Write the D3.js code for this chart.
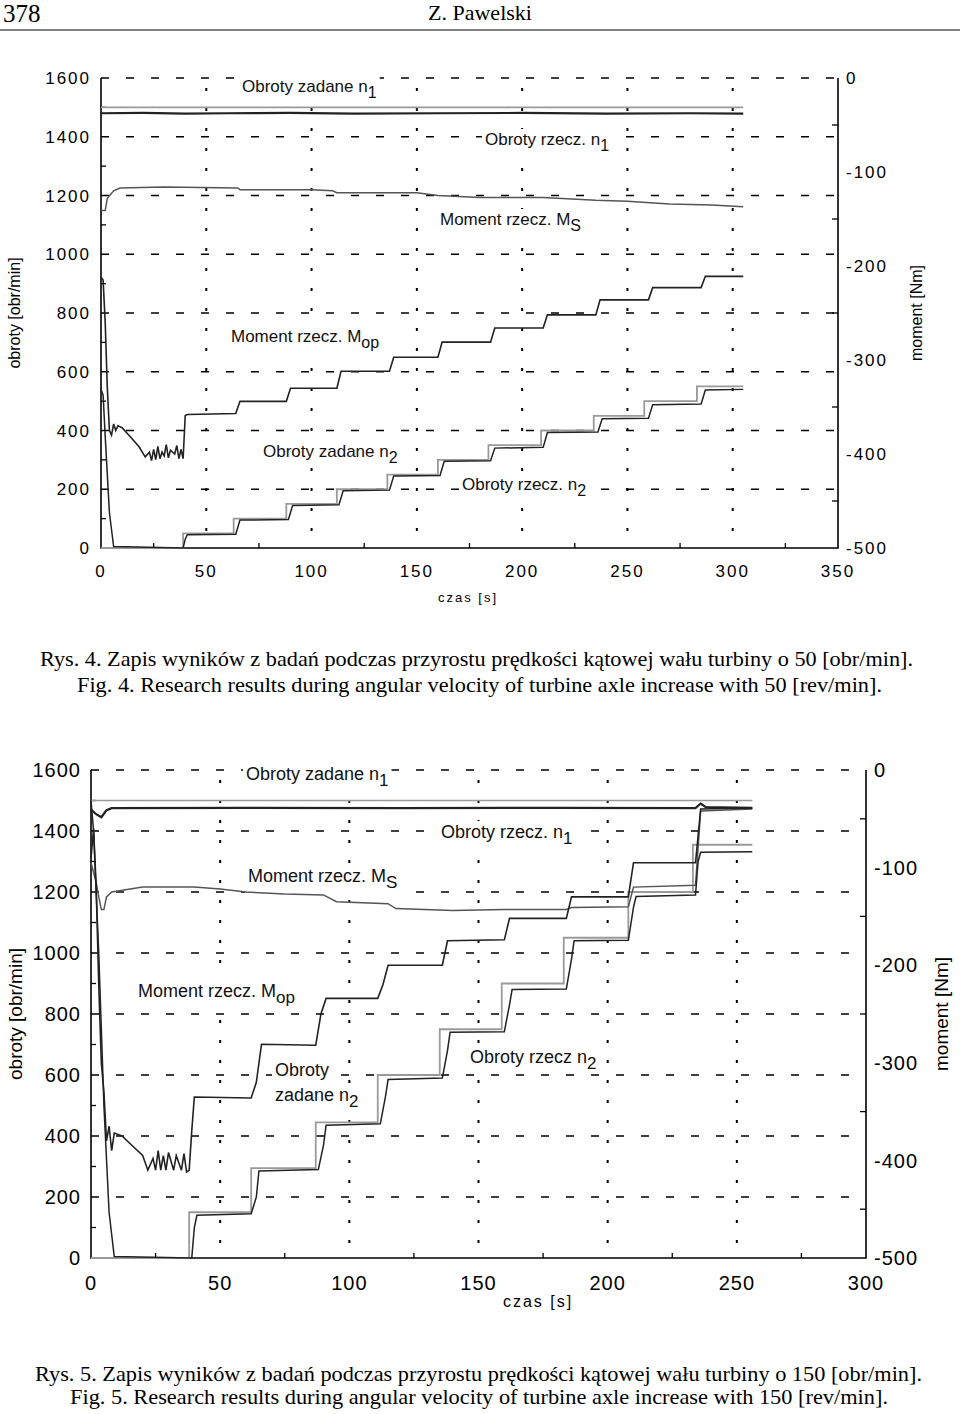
<!DOCTYPE html>
<html><head><meta charset="utf-8">
<script src="https://cdn.jsdelivr.net/npm/d3@7"></script>
<style>body{margin:0;background:#fff}svg{display:block}</style>
</head><body>
<svg id="s" width="960" height="1414"></svg>
<script>
// ===== DATA =====
// Chart 1 (Rys. 4) — time [s], value (rpm for n, Nm for moment)
const c1_n1set = [[0,1500],[305,1500]];
const c1_n1act = [[0,1480],[20,1481],[40,1479],[60,1480],[90,1481],[120,1479],[160,1480],[200,1481],[240,1479],[280,1480],[305,1479]];
const c1_Ms = [[0,-141],[2,-141],[3,-128],[6,-120],[9,-117],[30,-116],[65,-117],[66,-119],[100,-119],[110,-120],[112,-122],[150,-122],[160,-125],[180,-127],[200,-127],[210,-127],[235,-130],[250,-131],[270,-134],[290,-135],[305,-137]];
const c1_Mop = [[0,-212],[1,-215],[2,-260],[3,-330],[4,-375],[5,-380],[6,-368],[7,-375],[8,-370],[10,-372],[14,-382],[18,-392],[21,-403],[23,-398],[24,-407],[25,-395],[26,-406],[27,-392],[28,-405],[29,-398],[30,-402],[31,-390],[32,-404],[33,-396],[35,-400],[36,-391],[37,-405],[38,-395],[39,-405],[40,-359],[41,-358],[64,-357],[66,-344],[88,-344],[90,-330],[112,-330],[114,-312],[137,-312],[139,-297],[160,-297],[162,-281],[185,-281],[187,-266],[210,-266],[212,-252],[235,-252],[237,-236],[260,-236],[262,-223],[285,-223],[287,-211],[305,-211]];
const c1_n2set = [[0,0],[39,0],[39,50],[63,50],[63,100],[88,100],[88,150],[112,150],[112,200],[136,200],[136,250],[160,250],[160,300],[184,300],[184,350],[209,350],[209,400],[234,400],[234,450],[258,450],[258,500],[283,500],[283,550],[305,550]];
const c1_n2act = [[0,540],[1,520],[2,380],[4,120],[6,5],[39,0],[40,30],[41,45],[64,47],[66,95],[89,97],[91,145],[113,147],[115,195],[137,197],[139,245],[161,247],[163,295],[185,297],[187,340],[210,343],[212,393],[236,395],[238,440],[260,442],[262,488],[285,490],[287,538],[305,540]];
// Chart 2 (Rys. 5)
const c2_n1set = [[0,1500],[256,1500]];
const c2_n1act = [[0,1470],[2,1455],[4,1445],[6,1468],[8,1475],[60,1476],[120,1475],[180,1476],[234,1475],[236,1490],[238,1478],[256,1476]];
const c2_Ms = [[0,-95],[2,-115],[3,-130],[4,-143],[5,-143],[6,-130],[8,-125],[20,-120],[40,-120],[50,-122],[60,-125],[75,-127],[90,-128],[95,-135],[115,-137],[118,-142],[140,-144],[160,-143],[184,-143],[186,-141],[208,-140],[210,-120],[234,-118],[236,-42],[256,-40]];
const c2_Mop = [[0,-90],[1,-60],[2,-120],[3,-220],[4,-300],[5,-330],[6,-380],[7,-365],[8,-390],[9,-372],[12,-375],[16,-385],[20,-395],[22,-410],[24,-398],[25,-410],[26,-390],[27,-410],[28,-395],[29,-410],[30,-392],[32,-410],[33,-395],[35,-410],[36,-393],[37,-412],[38,-410],[39,-370],[40,-335],[62,-336],[64,-320],[66,-281],[87,-282],[89,-250],[91,-234],[111,-234],[113,-220],[115,-200],[136,-200],[138,-175],[160,-174],[162,-152],[184,-152],[186,-130],[208,-130],[210,-95],[234,-95],[236,-40],[256,-39]];
const c2_n2set = [[0,0],[38,0],[38,150],[62,150],[62,295],[87,295],[87,445],[111,445],[111,600],[135,600],[135,750],[159,750],[159,900],[183,900],[183,1050],[208,1050],[208,1200],[233,1200],[233,1355],[256,1355]];
const c2_n2act = [[0,1500],[1,1400],[3,1000],[5,500],[7,150],[9,5],[39,0],[40,100],[41,140],[62,145],[64,200],[65,285],[88,290],[90,370],[91,435],[112,440],[114,530],[115,585],[136,590],[138,680],[139,740],[160,742],[162,830],[163,880],[184,882],[186,980],[187,1040],[208,1042],[210,1150],[211,1185],[234,1190],[235,1300],[236,1330],[256,1332]];

const leftTicks = [0,200,400,600,800,1000,1200,1400,1600];
const rightTicks = [0,-100,-200,-300,-400,-500];

// ===== DRAW =====
const svg = d3.select("#s");
const sans = "'Liberation Sans', Arial, sans-serif";
const serif = "'Liberation Serif', 'Times New Roman', serif";

svg.append("text").attr("x",3).attr("y",22).attr("font-family",serif).attr("font-size",25).text("378");
svg.append("text").attr("x",480).attr("y",20).attr("text-anchor","middle").attr("font-family",serif).attr("font-size",22).text("Z. Pawelski");
svg.append("line").attr("x1",0).attr("x2",960).attr("y1",30).attr("y2",30).attr("stroke","#000").attr("stroke-width",1);

function chart(cfg){
  const g = svg.append("g");
  const x = d3.scaleLinear().domain([0,cfg.xmax]).range([cfg.L,cfg.R]);
  const y = d3.scaleLinear().domain([0,1600]).range([cfg.B,cfg.T]);
  const y2 = d3.scaleLinear().domain([-500,0]).range([cfg.B,cfg.T]);
  leftTicks.filter(v=>v>0).forEach(v=>{
    g.append("line").attr("x1",cfg.L).attr("x2",cfg.R).attr("y1",y(v)).attr("y2",y(v))
     .attr("stroke","#000").attr("stroke-width",1.6).attr("stroke-dasharray","8,17");
  });
  d3.range(50,cfg.xmax,50).forEach(v=>{
    g.append("line").attr("x1",x(v)).attr("x2",x(v)).attr("y1",cfg.T+10).attr("y2",cfg.B)
     .attr("stroke","#000").attr("stroke-width",2).attr("stroke-dasharray","3,17");
  });
  g.append("path").attr("d",`M${cfg.L},${cfg.T}V${cfg.B}H${cfg.R}V${cfg.T}`).attr("fill","none").attr("stroke","#000").attr("stroke-width",1.6);
  d3.range(100,1600,200).forEach(v=>g.append("line").attr("x1",cfg.L).attr("x2",cfg.L+5).attr("y1",y(v)).attr("y2",y(v)).attr("stroke","#000").attr("stroke-width",1.3));
  d3.range(-450,0,100).forEach(v=>g.append("line").attr("x1",cfg.R).attr("x2",cfg.R-6).attr("y1",y2(v)).attr("y2",y2(v)).attr("stroke","#000").attr("stroke-width",1.3));
  d3.range(25,cfg.xmax,50).forEach(v=>g.append("line").attr("x1",x(v)).attr("x2",x(v)).attr("y1",cfg.B).attr("y2",cfg.B-5).attr("stroke","#000").attr("stroke-width",1.3));
  const tf = {"font-family":sans,"font-size":cfg.fs,"letter-spacing":cfg.ls};
  function styl(s){Object.entries(tf).forEach(([k,v])=>s.attr(k,v));return s;}
  leftTicks.forEach(v=>styl(g.append("text")).attr("x",cfg.L-10).attr("y",y(v)+cfg.fs*0.36).attr("text-anchor","end").text(v));
  rightTicks.forEach(v=>styl(g.append("text")).attr("x",cfg.R+8).attr("y",y2(v)+cfg.fs*0.36).text(v));
  d3.range(0,cfg.xmax+1,50).forEach(v=>styl(g.append("text")).attr("x",x(v)).attr("y",cfg.B+cfg.fs+12).attr("text-anchor","middle").text(v));
  g.append("text").attr("transform",`translate(${cfg.ylx},${(cfg.T+cfg.B)/2}) rotate(-90)`).attr("text-anchor","middle")
   .attr("font-family",sans).attr("font-size",cfg.fs-1).text("obroty [obr/min]");
  g.append("text").attr("transform",`translate(${cfg.yrx},${(cfg.T+cfg.B)/2}) rotate(-90)`).attr("text-anchor","middle")
   .attr("font-family",sans).attr("font-size",cfg.fs-1).text("moment [Nm]");
  g.append("text").attr("x",cfg.xtx).attr("y",cfg.xty).attr("text-anchor","middle").attr("font-family",sans)
   .attr("font-size",cfg.fs-4).attr("letter-spacing",2).text("czas [s]");
  const lg = g.append("g");
  cfg.labels.forEach(l=>{
    const t = lg.append("text").attr("x",l[0]).attr("y",l[1]).attr("font-family",sans).attr("font-size",cfg.lfs).attr("fill","#111");
    t.append("tspan").text(l[2]);
    if(l[3]) t.append("tspan").attr("font-size",cfg.lfs-1).attr("dy",6).text(l[3]);
    const b = t.node().getBBox();
    lg.insert("rect","text").attr("x",b.x-3).attr("y",b.y-1).attr("width",b.width+6).attr("height",b.height+2).attr("fill","#fff");
  });
  const lr = d3.line().x(d=>x(d[0])).y(d=>y(d[1]));
  const lm = d3.line().x(d=>x(d[0])).y(d=>y2(d[1]));
  const gray="#9a9a9a", dk="#222";
  const S = cfg.data;
  g.append("path").attr("d",lr(S.n1set)).attr("fill","none").attr("stroke",gray).attr("stroke-width",1.6);
  g.append("path").attr("d",lr(S.n2set)).attr("fill","none").attr("stroke",gray).attr("stroke-width",1.8);
  g.append("path").attr("d",lm(S.Ms)).attr("fill","none").attr("stroke","#555").attr("stroke-width",1.5);
  g.append("path").attr("d",lr(S.n1act)).attr("fill","none").attr("stroke",dk).attr("stroke-width",2.2);
  g.append("path").attr("d",lm(S.Mop)).attr("fill","none").attr("stroke",dk).attr("stroke-width",1.6);
  g.append("path").attr("d",lr(S.n2act)).attr("fill","none").attr("stroke",dk).attr("stroke-width",1.5);
}

chart({L:101,R:838,T:78,B:548,xmax:350,fs:17,ls:2,lfs:17,ylx:20,yrx:922,xtx:468,xty:602,
  data:{n1set:c1_n1set,n1act:c1_n1act,Ms:c1_Ms,Mop:c1_Mop,n2set:c1_n2set,n2act:c1_n2act},
  labels:[[242,92,"Obroty zadane n","1"],[485,145,"Obroty rzecz. n","1"],[440,225,"Moment rzecz. M","S"],
          [231,342,"Moment rzecz. M","op"],[263,457,"Obroty zadane n","2"],[462,490,"Obroty rzecz. n","2"]]});

chart({L:91,R:866,T:770,B:1258,xmax:300,fs:20,ls:1,lfs:18,ylx:22,yrx:948,xtx:538,xty:1307,
  data:{n1set:c2_n1set,n1act:c2_n1act,Ms:c2_Ms,Mop:c2_Mop,n2set:c2_n2set,n2act:c2_n2act},
  labels:[[246,780,"Obroty zadane n","1"],[441,838,"Obroty rzecz. n","1"],[248,882,"Moment rzecz. M","S"],
          [138,997,"Moment rzecz. M","op"],[275,1076,"Obroty",""],[275,1101,"zadane n","2"],[470,1063,"Obroty rzecz n","2"]]});

const cap = [
  [40,666,873,"Rys. 4. Zapis wyników z badań podczas przyrostu prędkości kątowej wału turbiny o 50 [obr/min]."],
  [77,692,805,"Fig. 4. Research results during angular velocity of turbine axle increase with 50 [rev/min]."],
  [35,1381,887,"Rys. 5. Zapis wyników z badań podczas przyrostu prędkości kątowej wału turbiny o 150 [obr/min]."],
  [70,1404,818,"Fig. 5. Research results during angular velocity of turbine axle increase with 150 [rev/min]."]
];
cap.forEach(c=>svg.append("text").attr("x",c[0]).attr("y",c[1]).attr("font-family",serif).attr("font-size",21)
  .attr("textLength",c[2]).attr("lengthAdjust","spacingAndGlyphs").text(c[3]));
</script>
</body></html>
